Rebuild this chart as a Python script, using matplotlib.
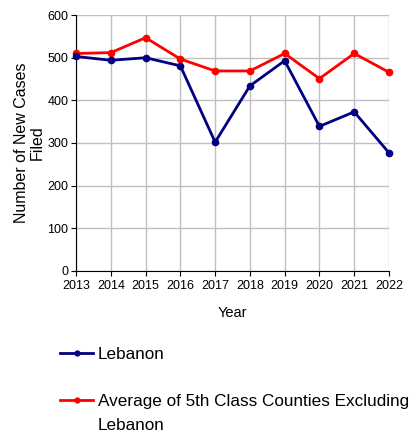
import matplotlib
matplotlib.use("Agg")
import matplotlib.pyplot as plt
from matplotlib.lines import Line2D

years = [2013, 2014, 2015, 2016, 2017, 2018, 2019, 2020, 2021, 2022]
lebanon = [503, 494, 500, 481, 302, 434, 493, 339, 373, 277]
avg_5th = [510, 512, 547, 497, 469, 469, 510, 451, 510, 466]

NAVY = "#000080"
RED = "#ff0000"

plt.rcParams["font.family"] = ["Liberation Sans", "DejaVu Sans"]

fig = plt.figure(figsize=(4.09, 4.32), dpi=100)
ax = fig.add_axes([0.186, 0.373, 0.765, 0.592])

ax.plot(years, lebanon, "-o", color=NAVY, linewidth=2, markersize=4.5,
        clip_on=False, zorder=4)
ax.plot(years, avg_5th, "-o", color=RED, linewidth=2, markersize=4.5,
        clip_on=False, zorder=3)

ax.set_xlim(2013, 2022)
ax.set_ylim(0, 600)
ax.set_xticks(years)
ax.set_yticks(range(0, 601, 100))
ax.tick_params(labelsize=9, length=3.5, width=0.8, color="black", pad=2)
ax.tick_params(axis="x", pad=3)
ax.grid(True, color="#c0c0c0", linewidth=1)
ax.set_axisbelow(True)
for s in ["top", "right"]:
    ax.spines[s].set_visible(False)
for s in ["left", "bottom"]:
    ax.spines[s].set_color("black")
    ax.spines[s].set_linewidth(0.8)

ax.set_xlabel("Year", fontsize=10.5, labelpad=10)
ax.set_ylabel("Number of New Cases\nFiled", fontsize=11.5, labelpad=2,
              linespacing=1.05)

# legend below the plot; second label wraps onto a continuation line
handles = [
    Line2D([], [], color=NAVY, marker="o", markersize=3.5, linewidth=2),
    Line2D([], [], color=RED, marker="o", markersize=3.5, linewidth=2),
]
leg = fig.legend(handles, ["Lebanon", "Average of 5th Class Counties Excluding"],
                 loc="center left", bbox_to_anchor=(0.147, 0.1255),
                 frameon=False, borderpad=0, borderaxespad=0,
                 fontsize=12.3, handlelength=1.92, handletextpad=0.27,
                 labelspacing=1.9)

fig.canvas.draw()
bb = leg.get_texts()[1].get_window_extent()
x0, yc = fig.transFigure.inverted().transform((bb.x0, (bb.y0 + bb.y1) / 2 - 24))
fig.text(x0, yc, "Lebanon", fontsize=12.3, va="center", ha="left")

fig.savefig("out.png", dpi=100)
